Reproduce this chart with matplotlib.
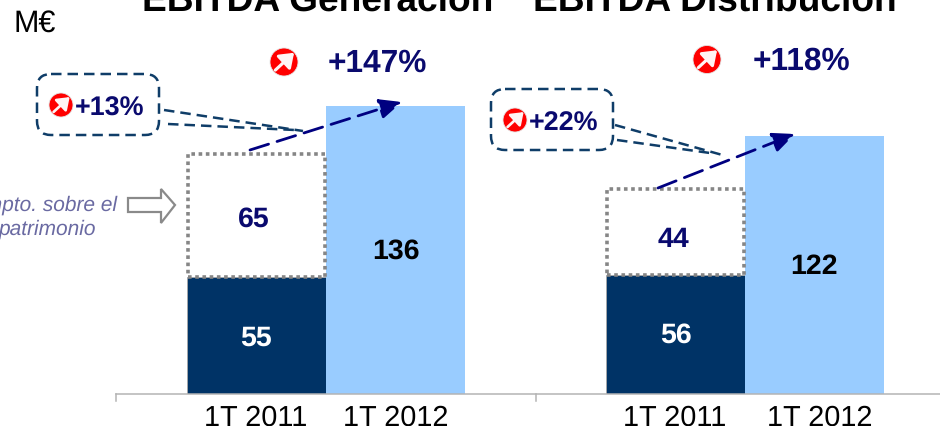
"""EBITDA Generacion / Distribucion: 1T 2011 vs 1T 2012 stacked bars with callouts."""
import matplotlib
matplotlib.use("Agg")
import matplotlib.pyplot as plt
from matplotlib.patches import Circle, FancyArrowPatch, FancyBboxPatch, Polygon

plt.rcParams["font.family"] = ["Liberation Sans", "DejaVu Sans"]
plt.rcParams["text.hinting"] = "no_hinting"

NAVY_BAR = "#003366"
LIGHT_BAR = "#99ccff"
TEXT_NAVY = "#0a0a6e"
CALLOUT = "#0f3d68"
ARROW = "#000080"
DOTS = "#868686"

# Data
titles = ["EBITDA Generación", "EBITDA Distribución"]
periods = ["1T 2011", "1T 2012"]
base_2011 = [55, 56]
tax_2011 = [65, 44]
# the dotted boxes in the source are hand drawn, shorter than their labels say
tax_drawn = [58, 40.5]
total_2012 = [136, 122]
growth_total = ["+147%", "+118%"]
growth_adj = ["+13%", "+22%"]

W, H = 940, 426
BASE_PX = 393.5
PX_PER_UNIT = 2.112
GROUP_LEFT = [186.5, 606]
BAR_W = [139, 139]

# label centres in pixels
base_lab = [(256, 338), (676, 335.5)]
tax_lab = [(254, 219.5), (673, 239.5)]
total_lab = [(396, 251.5), (814, 266.5)]
tick_x = [[255.5, 396], [675, 820]]


def badge(ax, x, y, r):
    ax.add_patch(Circle((x, y), r, fc="#ff0000", ec="#e4e4e4", lw=0.6, zorder=5))
    ax.add_patch(FancyArrowPatch((x - r * 0.62, y + r * 0.58), (x + r * 0.72, y - r * 0.66),
                                 arrowstyle="-|>,head_length=0.55,head_width=0.4",
                                 mutation_scale=r * 1.05, lw=r * 0.16,
                                 color="#fff4f4", shrinkA=0, shrinkB=0, zorder=6))


def callout(ax, box, lines):
    x0, y0, x1, y1 = box
    ax.add_patch(FancyBboxPatch((x0 + 12, y0 + 12), x1 - x0 - 24, y1 - y0 - 24,
                                boxstyle="round,pad=12,rounding_size=14", fc="none",
                                ec=CALLOUT, lw=1.8, ls=(0, (4.2, 2.4)), zorder=3))
    for (xa, ya), (xb, yb) in lines:
        ax.plot([xa, xb], [ya, yb], color=CALLOUT, lw=1.8, ls=(0, (4.2, 2.4)), zorder=3)


def main():
    fig = plt.figure(figsize=(W / 100, H / 100), dpi=100)

    # bars: x in pixels, y in data units above the baseline
    ax = fig.add_axes([0, (H - BASE_PX) / H, 1, BASE_PX / H])
    ax.set_xlim(0, W)
    ax.set_ylim(0, BASE_PX / PX_PER_UNIT)
    ax.axis("off")
    for i in range(2):
        x = GROUP_LEFT[i]
        w = BAR_W[i]
        ax.bar(x, base_2011[i], width=w, align="edge", color=NAVY_BAR, edgecolor="#a8a8a8",
               linewidth=0.6, zorder=2)
        ax.bar(x + w, total_2012[i], width=w, align="edge", color=LIGHT_BAR, zorder=2)
        ax.bar(x + 1, tax_drawn[i], width=w - 2, bottom=base_2011[i] + 0.2, align="edge",
               fc="white", ec=DOTS, lw=2.6, ls=(0, (1, 1)), zorder=3)

    # overlay in image pixels for the annotations
    ov = fig.add_axes([0, 0, 1, 1], facecolor="none")
    ov.set_xlim(0, W)
    ov.set_ylim(H, 0)
    ov.axis("off")

    for i in range(2):
        ov.text(*base_lab[i], str(base_2011[i]), color="white", ha="center", va="center",
                fontsize=20.5, fontweight="bold", zorder=6)
        ov.text(*tax_lab[i], str(tax_2011[i]), color=TEXT_NAVY, ha="center", va="center",
                fontsize=20.5, fontweight="bold", zorder=6)
        ov.text(*total_lab[i], str(total_2012[i]), color="black", ha="center", va="center",
                fontsize=20.5, fontweight="bold", zorder=6)

    # axis line and group ticks
    ov.plot([116, W], [BASE_PX, BASE_PX], color="#b4b4b4", lw=1.1, zorder=4)
    for tx in [116, 536]:
        ov.plot([tx, tx], [BASE_PX, 401], color="#b4b4b4", lw=1.1, zorder=4)
    for group in tick_x:
        for tx, lab in zip(group, periods):
            ov.text(tx, 426, lab, ha="center", va="baseline", fontsize=20.8, color="black")

    ov.text(318, 11, titles[0], ha="center", va="baseline", fontsize=26.7, fontweight="bold")
    ov.text(715, 11, titles[1], ha="center", va="baseline", fontsize=26.7, fontweight="bold")
    ov.text(13, 24, "M€", ha="left", va="center", fontsize=22)

    ov.text(377, 63, growth_total[0], ha="center", va="center", color=TEXT_NAVY,
            fontsize=22.8, fontweight="bold")
    ov.text(801, 61, growth_total[1], ha="center", va="center", color=TEXT_NAVY,
            fontsize=22.8, fontweight="bold")
    badge(ov, 284, 62, 14)
    badge(ov, 707, 59.5, 14)

    callout(ov, (37, 74, 159, 135), [((164, 110), (303, 131)), ((168, 124), (295, 130))])
    callout(ov, (491, 89, 613, 150), [((615, 125), (726, 156)), ((617, 140), (710, 153))])
    badge(ov, 61, 105, 12)
    badge(ov, 515, 120, 12)
    ov.text(110, 109, growth_adj[0], ha="center", va="center", color=TEXT_NAVY,
            fontsize=19.4, fontweight="bold")
    ov.text(564, 124, growth_adj[1], ha="center", va="center", color=TEXT_NAVY,
            fontsize=19.4, fontweight="bold")

    # dashed growth arrows
    for a, b in [((250, 150), (402, 102)), ((658, 188), (795, 134))]:
        ov.annotate("", xy=b, xytext=a, zorder=7,
                    arrowprops=dict(arrowstyle="-|>,head_length=0.85,head_width=0.38", color=ARROW,
                                    lw=2, ls=(0, (7, 3.2)), shrinkA=0, shrinkB=0,
                                    mutation_scale=16))

    # tax note with open block arrow
    ov.add_patch(Polygon([(128, 198), (161, 198), (161, 189), (175, 205), (161, 223), (161, 212),
                          (128, 212)], closed=True, fc="white", ec="#8a8a8a", lw=1.6, zorder=4))
    ov.text(117, 205, "Impto. sobre el", ha="right", va="center", style="italic",
            color="#6a6aa2", fontsize=15)
    ov.text(96, 229, "patrimonio", ha="right", va="center", style="italic",
            color="#6a6aa2", fontsize=15)

    fig.savefig("out.png", dpi=100)


if __name__ == "__main__":
    main()
